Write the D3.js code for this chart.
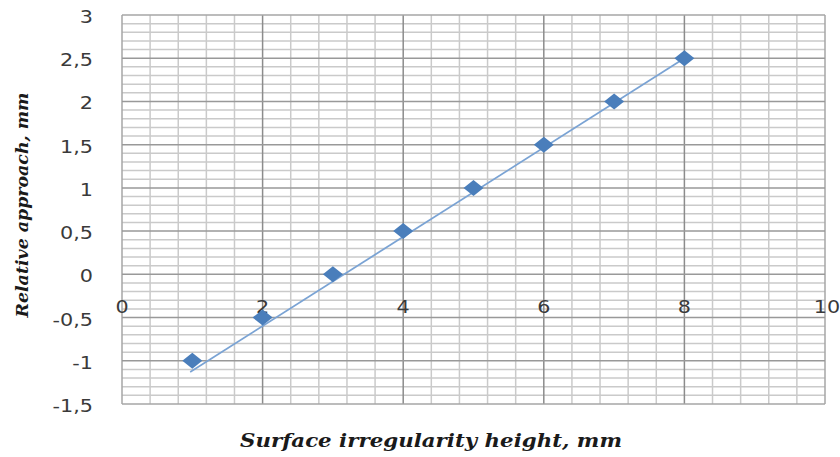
<!DOCTYPE html>
<html>
<head>
<meta charset="utf-8">
<script src="https://cdn.jsdelivr.net/npm/d3@7"></script>
<style>
  body { margin: 0; background: #fff; }
  .tick-label { font-family: "DejaVu Sans", Verdana, sans-serif; font-size: 17px; fill: #3a3a3a; }
  .axis-title { font-family: "DejaVu Serif", "Liberation Serif", serif; font-weight: bold; font-style: italic; fill: #1a1a1a; }
</style>
</head>
<body>
<div class="chartDiv"></div>
<script>
'use strict';

// measured data
var xValues = [1, 2, 3, 4, 5, 6, 7, 8];
var yValues = [-1, -0.5, 0, 0.5, 1, 1.5, 2, 2.5];

// trend line ends as drawn in the picture
var trendX = [0.97, 8];
var trendY = [-1.13, 2.5];

var xTicks = [0, 2, 4, 6, 8, 10];
var yTicks = [3, 2.5, 2, 1.5, 1, 0.5, 0, -0.5, -1, -1.5];
var yTickLabels = ["3", "2,5", "2", "1,5", "1", "0,5", "0", "-0,5", "-1", "-1,5"];

var width = 840, height = 457;
var margin = { top: 15, right: 15, bottom: 53, left: 122 };

var svg = d3.select('.chartDiv').append('svg')
    .attr('width', width)
    .attr('height', height);

var x = d3.scaleLinear().domain([0, 10]).range([margin.left, width - margin.right]);
var y = d3.scaleLinear().domain([-1.5, 3]).range([height - margin.bottom, margin.top]);

var grid = svg.append('g').attr('class', 'grid');

// minor grid
var xMinor = d3.range(0, 10.001, 0.4).filter(function(v) { return Math.abs(v / 2 - Math.round(v / 2)) > 1e-6; });
var yMinor = d3.range(-1.5, 3.001, 0.1).filter(function(v) { return Math.abs(v / 0.5 - Math.round(v / 0.5)) > 1e-6; });

grid.selectAll('.vminor').data(xMinor).enter().append('line')
    .attr('x1', function(d) { return x(d); }).attr('x2', function(d) { return x(d); })
    .attr('y1', y(3)).attr('y2', y(-1.5))
    .attr('stroke', '#cacaca').attr('stroke-width', 1.5);

grid.selectAll('.hminor').data(yMinor).enter().append('line')
    .attr('y1', function(d) { return y(d); }).attr('y2', function(d) { return y(d); })
    .attr('x1', x(0)).attr('x2', x(10))
    .attr('stroke', '#cacaca').attr('stroke-width', 1.5);

// major grid
grid.selectAll('.vmajor').data(xTicks).enter().append('line')
    .attr('x1', function(d) { return x(d); }).attr('x2', function(d) { return x(d); })
    .attr('y1', y(3)).attr('y2', y(-1.5))
    .attr('stroke', function(d) { return d === 0 || d === 10 ? '#a6a6a6' : '#8c8c8c'; })
    .attr('stroke-width', 1.5);

grid.selectAll('.hmajor').data(yTicks).enter().append('line')
    .attr('y1', function(d) { return y(d); }).attr('y2', function(d) { return y(d); })
    .attr('x1', x(0)).attr('x2', x(10))
    .attr('stroke', function(d) { return d === 3 || d === -1.5 ? '#a6a6a6' : '#999999'; })
    .attr('stroke-width', 1.5);

// y tick labels
var yl = svg.append('g').selectAll('g').data(yTicks).enter().append('g')
    .attr('transform', function(d) { return 'translate(93,' + (y(d) + 8) + ')'; });
yl.append('text')
    .attr('class', 'tick-label')
    .attr('text-anchor', 'end')
    .attr('transform', 'scale(1.22,1)')
    .text(function(d, i) { return yTickLabels[i]; });

// x tick labels, sitting under the zero line
var xl = svg.append('g').selectAll('g').data(xTicks).enter().append('g')
    .attr('transform', function(d) { return 'translate(' + (x(d) + (d === 10 ? 2 : 0)) + ',' + (y(0) + 39) + ')'; });
xl.append('text')
    .attr('class', 'tick-label')
    .attr('text-anchor', 'middle')
    .attr('transform', 'scale(1.22,1)')
    .text(function(d) { return d; });

// trend line
svg.append('path')
    .datum(d3.zip(trendX, trendY))
    .attr('fill', 'none')
    .attr('stroke', '#7aa3d4')
    .attr('stroke-width', 1.75)
    .attr('d', d3.line().x(function(d) { return x(d[0]); }).y(function(d) { return y(d[1]); }));

// markers
svg.append('g').selectAll('path').data(d3.zip(xValues, yValues)).enter().append('path')
    .attr('transform', function(d) { return 'translate(' + x(d[0]) + ',' + y(d[1]) + ')'; })
    .attr('d', 'M0,-8L10,0L0,8L-10,0Z')
    .attr('fill', '#4a7ebb');

// axis titles
svg.append('text')
    .attr('class', 'axis-title')
    .attr('x', 431).attr('y', 447)
    .attr('text-anchor', 'middle')
    .style('font-size', '19px')
    .attr('textLength', 382)
    .attr('lengthAdjust', 'spacingAndGlyphs')
    .text('Surface irregularity height, mm');

svg.append('text')
    .attr('class', 'axis-title')
    .attr('transform', 'translate(28,205) rotate(-90)')
    .attr('text-anchor', 'middle')
    .style('font-size', '17px')
    .attr('textLength', 225)
    .attr('lengthAdjust', 'spacingAndGlyphs')
    .text('Relative approach, mm');
</script>
</body>
</html>
